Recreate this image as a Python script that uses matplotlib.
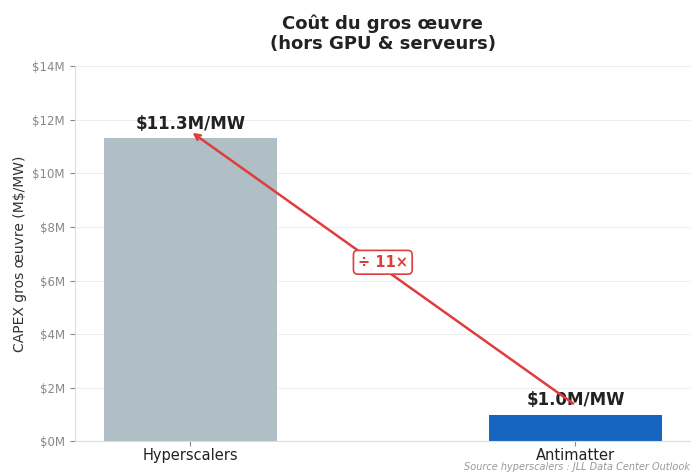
import matplotlib
matplotlib.use("Agg")
import matplotlib.pyplot as plt
from matplotlib.ticker import FuncFormatter

categories = ["Hyperscalers", "Antimatter"]
values = [11.3, 1.0]
bar_labels = ["$11.3M/MW", "$1.0M/MW"]
colors = ["#b0bec5", "#1565c0"]
ratio_label = "÷ 11×"

fig, ax = plt.subplots(figsize=(6.91, 4.72), dpi=100)
fig.subplots_adjust(left=0.108, right=1.0, top=0.86, bottom=0.065)

x = list(range(len(categories)))
ax.bar(x, values, width=0.45, color=colors, zorder=2)

for xi, v, lab in zip(x, values, bar_labels):
    ax.text(xi, v + 0.2, lab, ha="center", va="bottom",
            fontsize=12, fontweight="bold", color="#222222", zorder=3)

red = "#e03c3c"
ax.annotate("", xy=(0, 11.57), xytext=(1, 1.35),
            arrowprops=dict(arrowstyle="->", color=red, lw=1.8), zorder=4)
ax.text(0.5, 6.68, ratio_label, ha="center", va="center", fontsize=10.5,
        fontweight="bold", color=red, zorder=5,
        bbox=dict(boxstyle="round,pad=0.3", fc="white", ec=red, lw=1.2))

ax.set_xlim(-0.3, 1.3)
ax.set_ylim(0, 14)
ax.set_yticks(range(0, 15, 2))
ax.yaxis.set_major_formatter(FuncFormatter(lambda v, p: f"${v:.0f}M"))
ax.set_xticks(x)
ax.set_xticklabels(categories, fontsize=10.5, color="#222222")
ax.tick_params(axis="y", labelsize=8.5, colors="#888888")
ax.tick_params(axis="x", colors="#888888", labelcolor="#222222", pad=1.5)
ax.grid(axis="y", color="#eeeeee", lw=0.8, zorder=0)
for s in ["top", "right"]:
    ax.spines[s].set_visible(False)
for s in ["left", "bottom"]:
    ax.spines[s].set_color("#dddddd")

ax.set_ylabel("CAPEX gros œuvre (M$/MW)", fontsize=10, color="#333333")
ax.set_title("Coût du gros œuvre\n(hors GPU & serveurs)", fontsize=13,
             fontweight="bold", color="#222222", pad=12)

fig.text(0.998, 0.0, "Source hyperscalers : JLL Data Center Outlook",
         ha="right", va="bottom", fontsize=7, style="italic", color="#999999")

fig.savefig("out.png", dpi=100)
